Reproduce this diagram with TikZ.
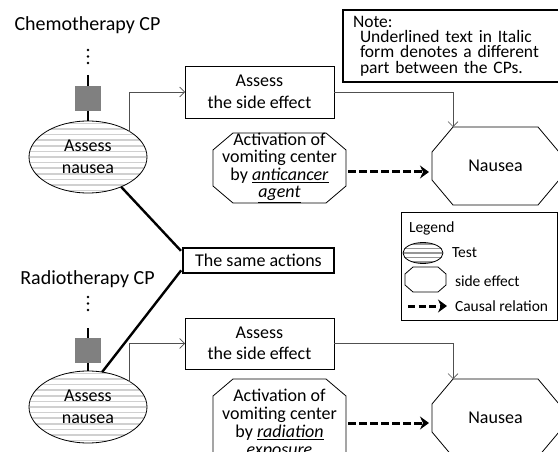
\documentclass[tikz,border=0pt]{standalone}
\usepackage{fontspec}
\setmainfont{Carlito}
\usetikzlibrary{arrows.meta,calc,shapes.geometric}

\definecolor{stripegray}{RGB}{208,208,208}
\definecolor{legendstripe}{RGB}{150,150,150}
\definecolor{blockgray}{RGB}{128,128,128}
\definecolor{linkgray}{RGB}{80,80,80}

% octagonal outline around a rectangular node: [options] node, x cut, y cut
\newcommand\octframe[4][]{%
  \draw[line width=0.8pt,#1] ([xshift=#3]#2.north west) -- ([xshift=-#3]#2.north east)
    -- ([yshift=-#4]#2.north east) -- ([yshift=#4]#2.south east)
    -- ([xshift=-#3]#2.south east) -- ([xshift=#3]#2.south west)
    -- ([yshift=#4]#2.south west) -- ([yshift=-#4]#2.north west) -- cycle;}

% font size with a fixed line pitch, even when lines come close
\newcommand\tightfont[2]{\fontsize{#1}{#2}\selectfont\lineskiplimit=-50pt\relax}

\tikzset{
  base/.style={inner sep=0pt, outer sep=0pt, align=center,
    font=\tightfont{18}{22}},
  cptitle/.style={base, font=\tightfont{20}{24}},
  stripes/.style 2 args={path picture={
    \foreach \k in {-14,...,14}
      \draw[#2, line width=1.5pt]
        ([yshift=\k*#1]path picture bounding box.west) --
        ([yshift=\k*#1]path picture bounding box.east);}},
  testnode/.style={base, ellipse, draw, line width=0.8pt,
    minimum width=118pt, minimum height=72pt, stripes={5.6pt}{stripegray}},
  blocksq/.style={base, fill=blockgray, minimum width=26pt, minimum height=25pt},
  stem/.style={line width=1.5pt},
  actbox/.style={base, draw, line width=0.8pt, minimum width=149pt,
    minimum height=52pt, font=\tightfont{18}{21.5}},
  causebox/.style={base, minimum width=133pt, font=\tightfont{18}{17.5}},
  effect/.style={base, minimum width=127pt, minimum height=78pt},
  link/.style={draw=linkgray, line width=0.7pt, -{Straight Barb[length=5pt,width=10pt]}},
  causal/.style={line width=3pt, dash pattern=on 7.5pt off 3.5pt,
    -{Stealth[length=9pt,width=13pt,inset=3pt]}},
  samebox/.style={base, draw, line width=2.4pt, minimum width=151pt, minimum height=25pt},
  bond/.style={line width=2.4pt, shorten >=3pt},
  legendtext/.style={base, anchor=west, font=\tightfont{15.5}{18}},
}

\begin{document}
\begin{tikzpicture}[x=1pt, y=-1pt]
\useasboundingbox (0,0) rectangle (558,452);
\fill[white] (0,0) rectangle (558,452);
\clip (0,0) rectangle (558,452);

% ---------- chemotherapy pathway ----------
\node[cptitle] (t1) at (87.5,25) {Chemotherapy CP};
\foreach \yy in {50,56.5,63} \fill (88,\yy) circle (1.4);
\coordinate (d1) at (88,75);
\node[blocksq] (q1) at (88,98.5) {};
\node[testnode] (e1) at (88,157) {Assess\\nausea};
\draw[stem] (d1) -- (q1.north);
\draw[stem] (q1.south) -- (e1.north);

\node[actbox] (b1) at (259.5,92) {Assess\\the side effect};
\node[causebox, minimum height=70pt] (c1) at (279.5,168)
  {Activation of\\vomiting center\\by \underline{\textit{anticancer}}\\\underline{\textit{agent}}};
\octframe{c1}{20pt}{17pt}
\node[effect] (n1) at (495.5,166) {Nausea};
\octframe{n1}{21pt}{25pt}

\draw[link] (e1.north east) |- (b1.west);
\draw[link] (b1.east) -| ([xshift=21pt]n1.north west);
\coordinate (a1) at ($(c1.east)+(0,4)$);
\draw[causal] ([xshift=2pt]a1) -- ([xshift=-3pt]a1 -| n1.west);

% ---------- note ----------
\node[base, draw, line width=2.4pt, anchor=north west, minimum width=232pt,
  minimum height=72pt, text width=212pt, inner xsep=10pt, align=left,
  font=\tightfont{17.5}{15.4}] (note) at (343,10)
  {Note:\\\hspace*{7pt}Underlined text in Italic\\\hspace*{7pt}form denotes a different\\\hspace*{7pt}part between the CPs.};

% ---------- shared actions ----------
\node[samebox] (same) at (258.5,260.5) {The same actions};

% ---------- legend ----------
\node[base, draw, line width=0.8pt, anchor=north west, minimum width=156pt,
  minimum height=108pt] (legend) at (401,212) {};
\node[legendtext] (lgt) at (409,228) {Legend};
\node[base, ellipse, draw, line width=0.8pt, minimum width=40pt, minimum height=21pt,
  stripes={4.5pt}{legendstripe}] (lge) at (423,253) {};
\node[legendtext] (lgtest) at (452,253) {Test};
\node[base, minimum width=41pt, minimum height=25pt] (lgo) at (425.5,279.5) {};
\octframe{lgo}{8pt}{7pt}
\node[legendtext] (lgside) at (455,281) {side effect};
\coordinate (la) at (408,306);
\coordinate (lb) at (447,306);
\draw[causal, dash pattern=on 7pt off 3.5pt] (la) -- (lb);
\node[legendtext] (lgcausal) at (455,306) {Causal relation};

% ---------- radiotherapy pathway ----------
\node[cptitle] (t2) at (87.5,279) {Radiotherapy CP};
\foreach \yy in {297,303.5,310} \fill (88,\yy) circle (1.4);
\coordinate (d2) at (88,328);
\node[blocksq] (q2) at (88,350.5) {};
\node[testnode] (e2) at (88,407) {Assess\\nausea};
\draw[stem] (d2) -- (q2.north);
\draw[stem] (q2.south) -- (e2.north);

\node[actbox, minimum height=51pt] (b2) at (259.5,343.5) {Assess\\the side effect};
\node[causebox, minimum height=92pt, font=\tightfont{18}{18}] (c2) at (279.5,425)
  {Activation of\\vomiting center\\by \underline{\textit{radiation}}\\\underline{\textit{exposure}}};
\octframe{c2}{20pt}{17pt}
\node[effect] (n2) at (495.5,418) {Nausea};
\octframe{n2}{21pt}{25pt}

\draw[link] (e2.north east) |- (b2.west);
\draw[link] (b2.east) -| ([xshift=21pt]n2.north west);
\coordinate (a2) at ($(c2.east)+(0,-2)$);
\draw[causal] ([xshift=2pt]a2) -- ([xshift=-3pt]a2 -| n2.west);

% ---------- links to the shared actions ----------
\draw[bond] (e1.-42) -- ([yshift=7.5pt]same.west);
\draw[bond] (e2.68) -- ([yshift=-7.5pt]same.west);
\end{tikzpicture}
\end{document}
